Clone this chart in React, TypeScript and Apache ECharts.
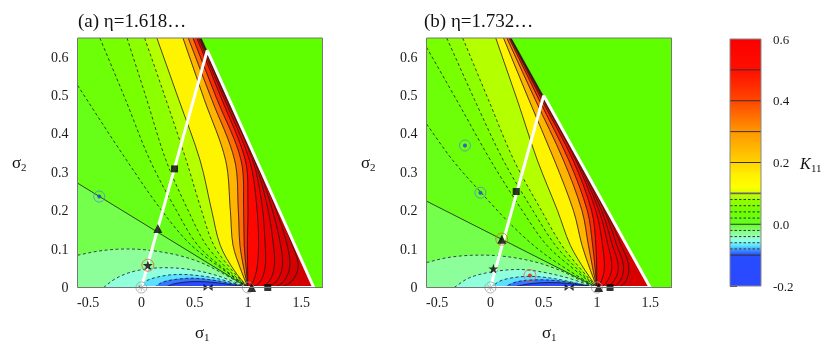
import React, { useEffect, useRef } from 'react';
import * as echarts from 'echarts';

type P = [number, number];
interface Contour { level: number; pts: P[] }

const FONT = '"Liberation Serif", "DejaVu Serif", serif';
const XMIN = -0.6, XMAX = 1.7, YMAX = 0.65;

// ---------- Panel (a) eta = 1.618...
const posContoursA: Contour[] = [
  { level: 0, pts: [[-0.6, 0.272], [0.2, 0.136], [1, 0]] },
  { level: 0.02, pts: [[-0.6, 0.527], [-0.35, 0.42], [-0.14, 0.332], [0.16, 0.212], [0.45, 0.115], [0.76, 0.048], [1, 0]] },
  { level: 0.04, pts: [[-0.39, 0.65], [-0.15, 0.49], [0.08, 0.332], [0.33, 0.2], [0.53, 0.11], [0.79, 0.045], [1, 0]] },
  { level: 0.06, pts: [[-0.135, 0.65], [0.05, 0.49], [0.23, 0.332], [0.44, 0.2], [0.61, 0.11], [0.82, 0.045], [1, 0]] },
  { level: 0.08, pts: [[0.03, 0.65], [0.23, 0.49], [0.42, 0.332], [0.565, 0.2], [0.68, 0.11], [0.85, 0.045], [1, 0]] },
  { level: 0.1, pts: [[0.145, 0.65], [0.35, 0.49], [0.55, 0.332], [0.66, 0.2], [0.74, 0.11], [0.87, 0.045], [1, 0]] },
  { level: 0.2, pts: [[0.39, 0.65], [0.59, 0.49], [0.79, 0.332], [0.835, 0.2], [0.86, 0.11], [0.935, 0.045], [1, 0]] },
  { level: 0.3, pts: [[0.44, 0.65], [0.66, 0.49], [0.875, 0.332], [0.91, 0.2], [0.925, 0.11], [0.965, 0.045], [1, 0]] },
  { level: 0.4, pts: [[0.484, 0.65], [0.71, 0.49], [0.935, 0.332], [0.96, 0.2], [0.965, 0.11], [0.985, 0.045], [1, 0]] },
  { level: 0.5, pts: [[0.52, 0.65], [0.755, 0.49], [0.975, 0.332], [1.0, 0.22], [0.995, 0.11], [1, 0]] },
  { level: 0.6, pts: [[0.535, 0.65], [0.78, 0.49], [1.015, 0.332], [1.08, 0.22], [1.1, 0.12], [1.085, 0.05], [1.045, 0.013], [1, 0]] },
  { level: 0.7, pts: [[0.547, 0.65], [0.797, 0.49], [1.045, 0.332], [1.13, 0.22], [1.16, 0.12], [1.16, 0.05], [1.1, 0.01], [1, 0]] },
  { level: 0.8, pts: [[0.553, 0.65], [0.807, 0.49], [1.06, 0.332], [1.175, 0.22], [1.235, 0.12], [1.245, 0.05], [1.17, 0.008], [1, 0]] },
  { level: 0.9, pts: [[0.558, 0.65], [0.814, 0.49], [1.07, 0.332], [1.21, 0.22], [1.3, 0.12], [1.32, 0.05], [1.23, 0.007], [1, 0]] },
  { level: 1.0, pts: [[0.562, 0.65], [0.818, 0.49], [1.076, 0.332], [1.24, 0.22], [1.36, 0.12], [1.39, 0.05], [1.29, 0.006], [1, 0]] },
  { level: 1.1, pts: [[0.565, 0.65], [0.821, 0.49], [1.079, 0.332], [1.258, 0.22], [1.41, 0.115], [1.47, 0.05], [1.35, 0.005], [1, 0]] },
];
const negContoursA: Contour[] = [
  { level: -0.02, pts: [[-0.6, 0.084], [-0.4, 0.095], [-0.2, 0.1], [0, 0.099], [0.2, 0.092], [0.4, 0.08], [0.6, 0.06], [0.8, 0.031], [0.92, 0.012], [1, 0]] },
  { level: -0.04, pts: [[-0.355, 0], [-0.25, 0.022], [-0.1, 0.04], [0.1, 0.05], [0.3, 0.051], [0.5, 0.045], [0.7, 0.032], [0.85, 0.017], [1, 0]] },
  { level: -0.06, pts: [[-0.03, 0], [0.05, 0.018], [0.2, 0.03], [0.35, 0.034], [0.5, 0.032], [0.7, 0.024], [0.87, 0.011], [1, 0]] },
  { level: -0.08, pts: [[0.12, 0], [0.2, 0.014], [0.35, 0.022], [0.5, 0.024], [0.7, 0.018], [0.88, 0.008], [1, 0]] },
  { level: -0.1, pts: [[0.22, 0], [0.3, 0.009], [0.45, 0.015], [0.6, 0.015], [0.8, 0.009], [0.92, 0.004], [1, 0]] },
];
const outsideA: P[] = [[0.5663, 0.65], [1.618, 0], [1.7, 0], [1.7, 0.65]];
const whiteA: P[] = [[0, 0], [0.618, 0.618], [1.618, 0], [0, 0]];
const squaresA: P[] = [[0.311, 0.309], [1.186, 0]];
const trianglesA: P[] = [[0.154, 0.154], [1.035, 0]];
const starsA: P[] = [[0.06, 0.058]];
const bowtiesA: P[] = [[0.626, 0]];
const greyRingsA: P[] = [[0, 0], [1, 0]];
const crossesA: P[] = [[0, 0]];
const blueDotsA: P[] = [[-0.396, 0.237]];
const redRingsA: P[] = [[0.06, 0.058]];
const redDotsA: P[] = [];

// ---------- Panel (b) eta = 1.732...
const posContoursB: Contour[] = [
  { level: 0, pts: [[-0.6, 0.225], [0.2, 0.1125], [1, 0]] },
  { level: 0.02, pts: [[-0.6, 0.426], [-0.35, 0.33], [-0.09, 0.248], [0.2, 0.162], [0.47, 0.095], [0.75, 0.042], [1, 0]] },
  { level: 0.04, pts: [[-0.6, 0.626], [-0.3, 0.48], [0, 0.332], [0.3, 0.2], [0.53, 0.11], [0.8, 0.044], [1, 0]] },
  { level: 0.06, pts: [[-0.41, 0.65], [-0.15, 0.49], [0.12, 0.332], [0.4, 0.2], [0.61, 0.11], [0.83, 0.044], [1, 0]] },
  { level: 0.08, pts: [[-0.26, 0.65], [-0.02, 0.49], [0.22, 0.332], [0.48, 0.2], [0.67, 0.11], [0.86, 0.044], [1, 0]] },
  { level: 0.1, pts: [[0.05, 0.65], [0.25, 0.49], [0.44, 0.332], [0.63, 0.2], [0.75, 0.11], [0.89, 0.044], [1, 0]] },
  { level: 0.2, pts: [[0.123, 0.65], [0.36, 0.49], [0.6, 0.332], [0.78, 0.2], [0.86, 0.11], [0.94, 0.044], [1, 0]] },
  { level: 0.3, pts: [[0.154, 0.65], [0.42, 0.49], [0.685, 0.332], [0.86, 0.2], [0.92, 0.11], [0.965, 0.044], [1, 0]] },
  { level: 0.4, pts: [[0.175, 0.65], [0.455, 0.49], [0.735, 0.332], [0.91, 0.2], [0.96, 0.11], [0.985, 0.044], [1, 0]] },
  { level: 0.5, pts: [[0.185, 0.65], [0.48, 0.49], [0.775, 0.332], [0.95, 0.2], [0.99, 0.11], [1, 0]] },
  { level: 0.6, pts: [[0.19, 0.65], [0.495, 0.49], [0.8, 0.332], [0.99, 0.2], [1.05, 0.115], [1.07, 0.05], [1.035, 0.012], [1, 0]] },
  { level: 0.7, pts: [[0.194, 0.65], [0.504, 0.49], [0.813, 0.332], [1.02, 0.2], [1.1, 0.115], [1.14, 0.05], [1.08, 0.01], [1, 0]] },
  { level: 0.8, pts: [[0.196, 0.65], [0.51, 0.49], [0.823, 0.332], [1.045, 0.2], [1.14, 0.115], [1.2, 0.05], [1.13, 0.008], [1, 0]] },
  { level: 0.9, pts: [[0.198, 0.65], [0.514, 0.49], [0.83, 0.332], [1.07, 0.2], [1.18, 0.115], [1.25, 0.05], [1.18, 0.006], [1, 0]] },
  { level: 1.0, pts: [[0.199, 0.65], [0.517, 0.49], [0.834, 0.332], [1.085, 0.2], [1.22, 0.115], [1.3, 0.05], [1.23, 0.005], [1, 0]] },
];
const negContoursB: Contour[] = [
  { level: -0.02, pts: [[-0.6, 0.065], [-0.4, 0.078], [-0.17, 0.084], [0.1, 0.082], [0.4, 0.068], [0.65, 0.045], [0.85, 0.018], [1, 0]] },
  { level: -0.04, pts: [[-0.34, 0], [-0.2, 0.025], [0, 0.04], [0.25, 0.047], [0.45, 0.042], [0.7, 0.027], [0.88, 0.011], [1, 0]] },
  { level: -0.06, pts: [[0, 0], [0.1, 0.018], [0.25, 0.027], [0.4, 0.029], [0.6, 0.023], [0.8, 0.012], [1, 0]] },
  { level: -0.08, pts: [[0.12, 0], [0.25, 0.015], [0.45, 0.02], [0.65, 0.017], [0.85, 0.008], [1, 0]] },
  { level: -0.1, pts: [[0.2, 0], [0.35, 0.009], [0.55, 0.013], [0.75, 0.01], [0.9, 0.004], [1, 0]] },
];
const outsideB: P[] = [[0.2, 0.65], [1.5, 0], [1.7, 0], [1.7, 0.65]];
const whiteB: P[] = [[0, 0], [0.5, 0.5], [1.5, 0], [0, 0]];
const squaresB: P[] = [[0.242, 0.25], [1.123, 0]];
const trianglesB: P[] = [[0.107, 0.126], [1.016, 0]];
const starsB: P[] = [[0.028, 0.049]];
const bowtiesB: P[] = [[0.739, 0]];
const greyRingsB: P[] = [[0, 0], [1, 0]];
const crossesB: P[] = [[0, 0]];
const blueDotsB: P[] = [[-0.239, 0.37], [-0.094, 0.247]];
const redRingsB: P[] = [[0.107, 0.126], [0.371, 0.031]];
const redDotsB: P[] = [[0.371, 0.031]];

// ---------- axes / colour bar
const xTicks = [-0.5, 0, 0.5, 1, 1.5];
const yTicks = [0, 0.1, 0.2, 0.3, 0.4, 0.5, 0.6];
const cbTicks = [-0.2, 0, 0.2, 0.4, 0.6];
const cbSolid = [-0.1, 0, 0.1, 0.2, 0.3, 0.4, 0.5];
const cbDashed = [-0.08, -0.06, -0.04, -0.02, 0.02, 0.04, 0.06, 0.08];

const CMAP: [number, number[]][] = [
  [-0.2, [42, 72, 255]],
  [-0.1, [40, 76, 255]],
  [-0.085, [60, 140, 255]],
  [-0.07, [90, 225, 255]],
  [-0.055, [140, 255, 235]],
  [-0.04, [150, 255, 190]],
  [-0.02, [130, 255, 120]],
  [0.0, [100, 255, 30]],
  [0.04, [110, 255, 0]],
  [0.08, [150, 255, 0]],
  [0.1, [210, 255, 0]],
  [0.12, [255, 255, 0]],
  [0.16, [255, 240, 0]],
  [0.2, [255, 210, 0]],
  [0.3, [255, 150, 0]],
  [0.4, [255, 70, 0]],
  [0.5, [255, 15, 0]],
  [0.6, [250, 0, 0]],
  [1.1, [210, 0, 0]],
];
const OUTSIDE = 'rgb(95,255,0)';

function cmap(v: number): string {
  const s = CMAP;
  const f = (c: number[]) => `rgb(${Math.round(c[0])},${Math.round(c[1])},${Math.round(c[2])})`;
  if (v <= s[0][0]) return f(s[0][1]);
  for (let i = 1; i < s.length; i++) {
    if (v <= s[i][0]) {
      const t = (v - s[i - 1][0]) / (s[i][0] - s[i - 1][0]);
      const a = s[i - 1][1], b = s[i][1];
      return f([a[0] + (b[0] - a[0]) * t, a[1] + (b[1] - a[1]) * t, a[2] + (b[2] - a[2]) * t]);
    }
  }
  return f(s[s.length - 1][1]);
}

// smooth path through pixel points (rendering only)
function smoothD(px: number[][]): string {
  let d = `M${px[0][0].toFixed(2)},${px[0][1].toFixed(2)}`;
  if (px.length === 2) return d + `L${px[1][0].toFixed(2)},${px[1][1].toFixed(2)}`;
  const tan = (i: number) => {
    const a = px[Math.max(0, i - 1)], b = px[Math.min(px.length - 1, i + 1)];
    const dx = b[0] - a[0], dy = b[1] - a[1];
    const l = Math.hypot(dx, dy) || 1;
    return [dx / l, dy / l];
  };
  for (let i = 0; i < px.length - 1; i++) {
    const p1 = px[i], p2 = px[i + 1];
    const L = Math.hypot(p2[0] - p1[0], p2[1] - p1[1]) / 3;
    const t1 = tan(i), t2 = tan(i + 1);
    const c1 = [p1[0] + t1[0] * L, p1[1] + t1[1] * L];
    const c2 = [p2[0] - t2[0] * L, p2[1] - t2[1] * L];
    d += `C${c1[0].toFixed(2)},${c1[1].toFixed(2)},${c2[0].toFixed(2)},${c2[1].toFixed(2)},${p2[0].toFixed(2)},${p2[1].toFixed(2)}`;
  }
  return d;
}

const STAR = 'path://M50,0L61.8,35.1L98.9,35.1L68.9,56.7L80.3,91.9L50,70.2L19.7,91.9L31.1,56.7L1.1,35.1L38.2,35.1Z';
const BOWTIE = 'path://M0,0L10,5L0,10ZM20,0L10,5L20,10Z';
const CROSS = 'path://M1,1L9,9M9,1L1,9M5,0L5,10';

function isDashed(l: number) {
  return l !== 0 && Math.abs(l) < 0.0999;
}

function panelSeries(k: number, pos: Contour[], neg: Contour[], outside: P[], white: P[],
  mk: { sq: P[]; tri: P[]; star: P[]; bow: P[]; grey: P[]; cross: P[]; blue: P[]; redR: P[]; redD: P[] }) {
  const fills: { pts: P[]; closure: P[]; color: string }[] = [];
  fills.push({ pts: [[XMIN, 0], [XMAX, 0]], closure: [[XMAX, YMAX], [XMIN, YMAX]], color: cmap(-0.01) });
  pos.forEach((c, i) => {
    const nx = pos[i + 1];
    const mid = nx ? (c.level + nx.level) / 2 : c.level + 0.05;
    const closure: P[] = [[XMAX, 0], [XMAX, YMAX]];
    if (c.pts[0][0] <= XMIN + 1e-9) closure.push([XMIN, YMAX]);
    fills.push({ pts: c.pts, closure, color: cmap(mid) });
  });
  neg.forEach((c, i) => {
    const nx = neg[i + 1];
    const mid = nx ? (c.level + nx.level) / 2 : c.level - 0.05;
    const closure: P[] = c.pts[0][0] <= XMIN + 1e-9 ? [[XMIN, 0]] : [];
    fills.push({ pts: c.pts, closure, color: cmap(mid) });
  });
  const lines = [...pos, ...neg];

  const series: any[] = [];
  series.push({
    type: 'custom', xAxisIndex: k, yAxisIndex: k, silent: true, z: 1, clip: true,
    data: fills.map(() => [0, 0]),
    renderItem: (params: any, api: any) => {
      const f = fills[params.dataIndex];
      const px = f.pts.map((q) => api.coord(q));
      let d = px.length > 2 ? smoothD(px) : `M${px[0][0]},${px[0][1]}L${px[1][0]},${px[1][1]}`;
      f.closure.forEach((q) => { const c = api.coord(q); d += `L${c[0].toFixed(2)},${c[1].toFixed(2)}`; });
      d += 'Z';
      return {
        type: 'path', z2: params.dataIndex,
        shape: { pathData: d },
        style: { fill: f.color, stroke: f.color, lineWidth: 0.6 },
      };
    },
  });
  series.push({
    type: 'custom', xAxisIndex: k, yAxisIndex: k, silent: true, z: 2, clip: true,
    data: lines.map(() => [0, 0]),
    renderItem: (params: any, api: any) => {
      const c = lines[params.dataIndex];
      const px = c.pts.map((q) => api.coord(q));
      return {
        type: 'path',
        shape: { pathData: smoothD(px) },
        style: { fill: 'none', stroke: '#1c1c1c', lineWidth: 0.8, lineDash: isDashed(c.level) ? [3, 2.5] : null },
      };
    },
  });
  series.push({
    type: 'custom', xAxisIndex: k, yAxisIndex: k, silent: true, z: 3, clip: true,
    data: [[0, 0]],
    renderItem: (_p: any, api: any) => ({
      type: 'polygon',
      shape: { points: outside.map((q) => api.coord(q)) },
      style: { fill: OUTSIDE, stroke: OUTSIDE, lineWidth: 0.5 },
    }),
  });
  series.push({
    type: 'line', xAxisIndex: k, yAxisIndex: k, data: white, symbol: 'none', silent: true, z: 4,
    lineStyle: { color: '#ffffff', width: 3 },
  });
  const sc = (data: P[], symbol: string, size: any, itemStyle: any, z = 6) => ({
    type: 'scatter', xAxisIndex: k, yAxisIndex: k, data, symbol, symbolSize: size, itemStyle, z, clip: false, silent: true,
  });
  series.push(sc(mk.grey, 'circle', 11, { color: 'rgba(0,0,0,0)', borderColor: '#a0a0a0', borderWidth: 1 }, 5));
  series.push(sc(mk.cross, CROSS, 7, { color: 'rgba(0,0,0,0)', borderColor: '#a0a0a0', borderWidth: 0.8 }, 5));
  series.push(sc(mk.blue, 'circle', 11, { color: 'rgba(0,0,0,0)', borderColor: '#4b8bd6', borderWidth: 1 }, 5));
  series.push(sc(mk.blue, 'circle', 4, { color: '#1f3cff' }, 6));
  series.push(sc(mk.redR, 'circle', 12, { color: 'rgba(0,0,0,0)', borderColor: '#e0603a', borderWidth: 1 }, 5));
  series.push(sc(mk.redD, 'circle', 4, { color: '#ee1010' }, 6));
  series.push(sc(mk.sq, 'rect', 7, { color: '#000' }));
  series.push(sc(mk.tri, 'triangle', 9, { color: '#000' }));
  series.push(sc(mk.star, STAR, 10, { color: '#000' }));
  series.push(sc(mk.bow, BOWTIE, [9, 7], { color: '#000' }));
  return series;
}

export default function App() {
  const ref = useRef<HTMLDivElement>(null);
  useEffect(() => {
    if (!ref.current) return;
    const chart = echarts.init(ref.current, null, { renderer: 'svg' });
    const tickLabel = { fontFamily: FONT, fontSize: 14, color: '#1a1a1a' };
    const xAx = (g: number) => ({
      type: 'value', gridIndex: g, min: XMIN, max: XMAX,
      axisLine: { show: false }, splitLine: { show: false },
      axisTick: { show: true, inside: true, length: 3, lineStyle: { color: '#555' }, customValues: xTicks },
      axisLabel: { ...tickLabel, margin: 8, customValues: xTicks, formatter: (v: number) => String(v) },
    });
    const yAx = (g: number) => ({
      type: 'value', gridIndex: g, min: 0, max: YMAX,
      axisLine: { show: false }, splitLine: { show: false },
      axisTick: { show: true, inside: true, length: 3, lineStyle: { color: '#555' }, customValues: yTicks },
      axisLabel: { ...tickLabel, margin: 9, customValues: yTicks, formatter: (v: number) => String(v) },
    });
    const grids = [
      { left: 77.5, top: 38, width: 245, height: 249.5 },
      { left: 426.5, top: 38, width: 245, height: 249.5 },
      { left: 730, top: 39, width: 31, height: 247 },
    ];
    const cbStops: any[] = [];
    CMAP.forEach(([v]) => {
      if (v >= -0.2 && v <= 0.6) cbStops.push({ offset: (0.6 - v) / 0.8, color: cmap(v) });
    });
    cbStops.sort((a, b) => a.offset - b.offset);

    const series: any[] = [
      ...panelSeries(0, posContoursA, negContoursA, outsideA, whiteA, {
        sq: squaresA, tri: trianglesA, star: starsA, bow: bowtiesA, grey: greyRingsA, cross: crossesA,
        blue: blueDotsA, redR: redRingsA, redD: redDotsA,
      }),
      ...panelSeries(1, posContoursB, negContoursB, outsideB, whiteB, {
        sq: squaresB, tri: trianglesB, star: starsB, bow: bowtiesB, grey: greyRingsB, cross: crossesB,
        blue: blueDotsB, redR: redRingsB, redD: redDotsB,
      }),
      {
        type: 'custom', xAxisIndex: 2, yAxisIndex: 2, silent: true, z: 1,
        data: [[0, 0]],
        renderItem: (_p: any, api: any) => {
          const a = api.coord([0, 0.6]);
          const b = api.coord([1, -0.2]);
          return {
            type: 'rect', shape: { x: a[0], y: a[1], width: b[0] - a[0], height: b[1] - a[1] },
            style: { fill: new echarts.graphic.LinearGradient(0, 0, 0, 1, cbStops) },
          };
        },
      },
      ...cbSolid.map((l) => ({
        type: 'line', xAxisIndex: 2, yAxisIndex: 2, data: [[0, l], [1, l]], symbol: 'none', silent: true, z: 3,
        lineStyle: { color: l === 0.1 ? '#666' : '#333', width: l === 0.1 ? 1.6 : 1 },
      })),
      ...cbDashed.map((l) => ({
        type: 'line', xAxisIndex: 2, yAxisIndex: 2, data: [[0, l], [1, l]], symbol: 'none', silent: true, z: 3,
        lineStyle: { color: '#333', width: 1, type: [2.5, 2] },
      })),
    ];

    const txt = (x: number, y: number, text: string, size: number, extra: any = {}) => ({
      type: 'text', x, y, z: 100,
      style: { text, fontFamily: FONT, fontSize: size, fill: '#111', verticalAlign: 'middle', ...extra },
    });
    const kLabel = (x: number, y: number, rot: number) => ({
      type: 'group', x, y, rotation: rot, z: 100,
      children: [
        { type: 'text', x: -17, y: 0, style: { text: 'K', fontFamily: FONT, fontSize: 15, fontStyle: 'italic', fill: '#263326', verticalAlign: 'middle' } },
        { type: 'text', x: -6.5, y: 4, style: { text: '11', fontFamily: FONT, fontSize: 10, fontStyle: 'italic', fill: '#263326', verticalAlign: 'middle' } },
        { type: 'text', x: 4, y: 0, style: { text: '=0', fontFamily: FONT, fontSize: 15, fontStyle: 'italic', fill: '#263326', verticalAlign: 'middle' } },
      ],
    });
    const frame = (g: any, color: string) => ({
      type: 'rect', z: 100, silent: true,
      shape: { x: g.left, y: g.top, width: g.width, height: g.height },
      style: { fill: 'none', stroke: color, lineWidth: 1 },
    });

    chart.setOption({
      animation: false,
      grid: grids.map((g) => ({ ...g, containLabel: false })),
      xAxis: [xAx(0), xAx(1), { type: 'value', gridIndex: 2, min: 0, max: 1, show: false }],
      yAxis: [yAx(0), yAx(1), {
        type: 'value', gridIndex: 2, min: -0.2, max: 0.6, position: 'right',
        axisLine: { show: false }, splitLine: { show: false },
        axisTick: { show: true, length: 7, lineStyle: { color: '#333' }, customValues: cbTicks },
        axisLabel: { fontFamily: FONT, fontSize: 13, color: '#1a1a1a', margin: 12, customValues: cbTicks, formatter: (v: number) => v.toFixed(1) },
      }],
      series,
      graphic: [
        frame(grids[0], '#777'), frame(grids[1], '#777'), frame(grids[2], '#888'),
        txt(78, 20, '(a) η=1.618…', 19),
        txt(424, 20, '(b) η=1.732…', 19),
        txt(12, 162, 'σ', 17), txt(21, 167, '2', 11),
        txt(361, 162, 'σ', 17), txt(370, 167, '2', 11),
        txt(195, 332, 'σ', 17), txt(204, 337, '1', 11),
        txt(542, 332, 'σ', 17), txt(551, 337, '1', 11),
        txt(800, 163, 'K', 16, { fontStyle: 'italic' }), txt(811, 168, '11', 11),
        kLabel(126, 224, -0.52),
        kLabel(454, 225, -0.46),
      ],
    });
    return () => chart.dispose();
  }, []);
  return <div ref={ref} style={{ position: 'fixed', left: 0, top: 0, width: 830, height: 348 }} />;
}
